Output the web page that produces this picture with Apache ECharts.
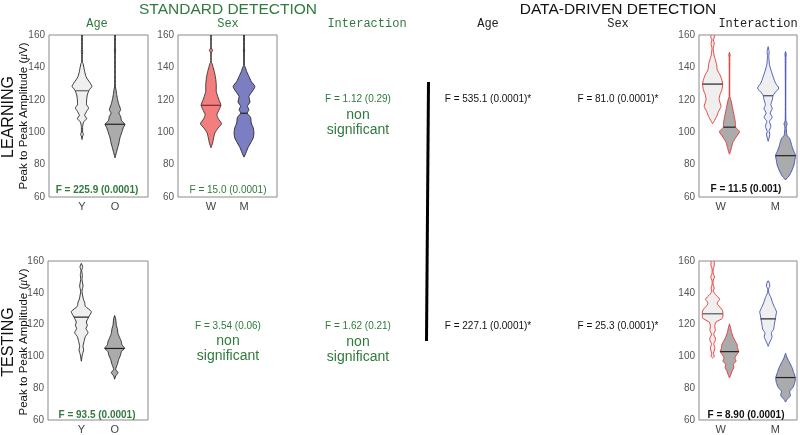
<!DOCTYPE html>
<html><head><meta charset="utf-8">
<script src="https://cdn.jsdelivr.net/npm/echarts@6/dist/echarts.min.js"></script>
<style>html,body{margin:0;padding:0;background:#fff}#c{width:800px;height:435px}</style>
</head><body><div id="c"></div>
<script>
// ---------- data ----------
const yTicks = [60, 80, 100, 120, 140, 160];
const ageCats = ['Y', 'O'];
const sexCats = ['W', 'M'];
const ageSexPos = [1, 2];                    // category positions on x (0..3)
const interPos = [-0.15, 0.16, 0.87, 1.19];  // W-young, W-old, M-young, M-old (-0.4..1.4)
const interLabelPos = [0, 1];

// violin profiles: [amplitude (µV), half width in x-axis units]
const learnAgeY = [[160,0.01],[152,0.01],[150,0.02],[148,0.01],[143,0.01],[142.6,0.03],[137.5,0.08],[134.4,0.12],[132.3,0.18],[130.3,0.25],[128.2,0.30],[126.2,0.22],[123,0.16],[120,0.14],[116.9,0.14],[114.9,0.20],[112.9,0.14],[110.4,0.08],[108.4,0.14],[106.3,0.05],[103.7,0.02],[100,0.02],[98.6,0.04],[97,0.01],[95.5,0]];
const learnAgeO = [[160,0.01],[152,0.01],[150.8,0.02],[149.5,0.01],[128,0.01],[126.4,0.03],[123.3,0.05],[120,0.08],[117,0.12],[113.9,0.17],[111.8,0.12],[109.8,0.17],[107.1,0.20],[104.9,0.30],[102.7,0.25],[99.6,0.20],[96.5,0.15],[93.4,0.12],[90.4,0.08],[87.3,0.04],[84.2,0]];
const learnSexW = [[160,0.01],[152,0.01],[150.4,0.05],[149,0.01],[143,0.01],[142.6,0.03],[140.5,0.06],[137.5,0.10],[133.4,0.14],[129.3,0.16],[125.2,0.16],[121.1,0.22],[118,0.28],[116.6,0.30],[114,0.25],[110.9,0.18],[108.4,0.22],[105.2,0.32],[102.7,0.22],[99.6,0.12],[96.5,0.08],[93.4,0.05],[90.4,0]];
const learnSexM = [[160,0.01],[152,0.01],[150.8,0.02],[149.5,0.01],[141,0.01],[140.5,0.03],[137.5,0.08],[134.4,0.15],[131.3,0.22],[128.2,0.33],[125.2,0.25],[122.1,0.15],[118.6,0.18],[116,0.10],[114,0.15],[111.7,0.10],[109.2,0.20],[105.7,0.22],[102.7,0.28],[99.6,0.30],[96.5,0.28],[93.4,0.20],[90.4,0.12],[87.3,0.06],[84.6,0]];
const testAgeY = [[158.5,0],[156.5,0.04],[154,0.01],[151.4,0.03],[148.3,0.02],[144.2,0.05],[141,0.02],[136,0.06],[134,0.10],[131.5,0.12],[128.2,0.30],[124.7,0.22],[121.6,0.15],[119.5,0.18],[117.5,0.14],[115,0.20],[112.4,0.12],[109.3,0.08],[106.2,0.05],[104.1,0.07],[101,0.03],[97,0]];
const testAgeO = [[125.7,0],[123.7,0.03],[119.5,0.05],[117.5,0.08],[114.4,0.10],[111.8,0.15],[109.3,0.20],[107.2,0.22],[105.1,0.30],[103,0.20],[101,0.18],[98,0.12],[95,0.08],[91.8,0.03],[89.8,0.10],[87.7,0.03],[85.7,0]];
const learnIntWY = [[160,0.02],[159,0.037],[157,0.012],[154.9,0.03],[151.8,0.012],[147.7,0.025],[144.7,0.05],[141.6,0.075],[138.5,0.085],[135.4,0.135],[132.3,0.17],[129.7,0.185],[126.2,0.17],[123.1,0.135],[120,0.12],[115.9,0.155],[112.9,0.11],[109.8,0.075],[106.7,0.025],[105.3,0]];
const learnIntWO = [[149.3,0],[148,0.012],[146,0.006],[122,0.006],[120,0.025],[116,0.05],[111.9,0.075],[107.8,0.1],[104.8,0.11],[103.1,0.11],[100.3,0.185],[97,0.12],[93.5,0.06],[90.5,0.037],[87.4,0.012],[86.4,0]];
const learnIntMY = [[152.8,0],[149.8,0.018],[146.7,0.012],[141.6,0.025],[137.5,0.06],[133.4,0.1],[130.3,0.135],[127.2,0.195],[124.2,0.12],[122.5,0.09],[120,0.075],[117,0.05],[114.5,0.075],[111.8,0.037],[109.2,0.075],[106.7,0.025],[103.6,0.05],[100.5,0.018],[98.5,0.03],[94.4,0]];
const learnIntMO = [[149.8,0],[148,0.012],[146,0.006],[107,0.006],[105.3,0.03],[103.3,0.012],[98.2,0.025],[96.1,0.075],[93.7,0.1],[91,0.12],[88,0.155],[85.5,0.185],[82.8,0.17],[79.8,0.155],[76.7,0.12],[73.6,0.075],[70.5,0]];
const testIntWY = [[160,0.02],[159,0.03],[157,0.03],[155,0.01],[152,0.012],[150,0.035],[148,0.012],[145,0.01],[143,0.03],[141,0.015],[139,0.05],[136,0.13],[134,0.09],[132.8,0.09],[129,0.18],[126.5,0.19],[124,0.18],[121.5,0.06],[119,0.04],[116.4,0.05],[114,0.02],[111.5,0.05],[110,0.05],[108,0.02],[105.5,0.04],[104,0.035],[102,0.015],[100,0.03],[99,0]];
const testIntWO = [[120.5,0],[118,0.02],[115,0.04],[112,0.07],[110,0.1],[107.5,0.14],[105,0.15],[103,0.17],[101,0.13],[99,0.1],[97,0.12],[95,0.07],[93,0.08],[91,0.05],[88,0.02],[86.5,0]];
const testIntMY = [[147.6,0],[146,0.025],[144,0.03],[142.5,0.008],[140,0.012],[137,0.05],[133,0.09],[130,0.13],[128,0.155],[125.5,0.14],[123.6,0.135],[121.5,0.12],[119,0.11],[117,0.1],[115,0.06],[112,0.07],[109,0.03],[106.3,0]];
const testIntMO = [[102,0],[99,0.03],[96,0.075],[92.9,0.12],[89.8,0.15],[86.7,0.18],[83.6,0.17],[80.5,0.135],[78,0.075],[75.4,0.09],[73,0.03],[71.3,0]];

const learnAgeMed = [125.6, 104.9];
const learnSexMed = [116.6, 111.7];
const testAgeMed = [124.7, 105];
const learnIntMed = [129.7, 103.1, 122.5, 85.5];
const testIntMed = [126.8, 103, 123.6, 86.7];

// ---------- styles ----------
const GREEN = '#2f7a3c';
const LIGHT = '#efefef', DARK = '#ababab', RED = '#f27e7e', BLUE = '#7c7ec4';
const RED_LINE = '#e5312b', BLUE_LINE = '#3d4fb8';

const panels = [
  {grid:{left:49,top:35,width:99,height:162}, xmin:0, xmax:3, labels:ageCats, labelPos:ageSexPos,
   violins:[{p:learnAgeY,x:ageSexPos[0],m:learnAgeMed[0],fill:LIGHT,line:'#222',med:'#666'},
            {p:learnAgeO,x:ageSexPos[1],m:learnAgeMed[1],fill:DARK,line:'#222',med:'#222'}]},
  {grid:{left:178,top:35,width:99,height:162}, xmin:0, xmax:3, labels:sexCats, labelPos:ageSexPos,
   violins:[{p:learnSexW,x:ageSexPos[0],m:learnSexMed[0],fill:RED,line:'#333',med:'#7a2a2a'},
            {p:learnSexM,x:ageSexPos[1],m:learnSexMed[1],fill:BLUE,line:'#222',med:'#222'}]},
  {grid:{left:48,top:261,width:100,height:162}, xmin:0, xmax:3, labels:ageCats, labelPos:ageSexPos,
   violins:[{p:testAgeY,x:ageSexPos[0],m:testAgeMed[0],fill:LIGHT,line:'#222',med:'#222'},
            {p:testAgeO,x:ageSexPos[1],m:testAgeMed[1],fill:DARK,line:'#222',med:'#222'}]},
  {grid:{left:699,top:35,width:98,height:162}, xmin:-0.4, xmax:1.4, labels:sexCats, labelPos:interLabelPos,
   violins:[{p:learnIntWY,x:interPos[0],m:learnIntMed[0],fill:LIGHT,line:RED_LINE,med:'#222'},
            {p:learnIntWO,x:interPos[1],m:learnIntMed[1],fill:DARK,line:RED_LINE,med:'#222'},
            {p:learnIntMY,x:interPos[2],m:learnIntMed[2],fill:LIGHT,line:BLUE_LINE,med:'#444'},
            {p:learnIntMO,x:interPos[3],m:learnIntMed[3],fill:DARK,line:BLUE_LINE,med:'#222'}]},
  {grid:{left:699,top:261,width:98,height:162}, xmin:-0.4, xmax:1.4, labels:sexCats, labelPos:interLabelPos,
   violins:[{p:testIntWY,x:interPos[0],m:testIntMed[0],fill:LIGHT,line:RED_LINE,med:'#555'},
            {p:testIntWO,x:interPos[1],m:testIntMed[1],fill:DARK,line:RED_LINE,med:'#222'},
            {p:testIntMY,x:interPos[2],m:testIntMed[2],fill:LIGHT,line:BLUE_LINE,med:'#222'},
            {p:testIntMO,x:interPos[3],m:testIntMed[3],fill:DARK,line:BLUE_LINE,med:'#222'}]}
];

function hwAt(p, y) {
  for (let i = 0; i < p.length - 1; i++) {
    const a = p[i], b = p[i + 1];
    if (y <= a[0] && y >= b[0]) {
      const t = (a[0] - y) / ((a[0] - b[0]) || 1);
      return a[1] + (b[1] - a[1]) * t;
    }
  }
  return 0;
}

const grids = [], xAxes = [], yAxes = [], series = [];
panels.forEach((pn, gi) => {
  grids.push(Object.assign({show:true, borderColor:'#8a8a8a', borderWidth:1, backgroundColor:'#fff', containLabel:false}, pn.grid));
  xAxes.push({type:'value', gridIndex:gi, min:pn.xmin, max:pn.xmax,
    axisLine:{show:false}, axisTick:{show:false}, splitLine:{show:false},
    axisLabel:{customValues:pn.labelPos, margin:4, fontSize:11, color:'#444', fontFamily:'Liberation Sans',
      formatter:(v)=>{const k=pn.labelPos.indexOf(v); return k>=0?pn.labels[k]:'';}}});
  yAxes.push({type:'value', gridIndex:gi, min:yTicks[0], max:yTicks[yTicks.length-1], interval:20,
    axisLine:{show:false}, axisTick:{show:false}, splitLine:{show:false},
    axisLabel:{margin:4, fontSize:10, color:'#555', fontFamily:'Liberation Sans'}});
  series.push({type:'custom', xAxisIndex:gi, yAxisIndex:gi, clip:true,
    data: pn.violins.map((v, i) => [v.x, v.m, i]),
    renderItem:(params, api) => {
      const v = pn.violins[params.dataIndex];
      const pts = [];
      v.p.forEach(d => pts.push(api.coord([v.x + d[1], d[0]])));
      for (let i = v.p.length - 1; i >= 0; i--) { const d = v.p[i]; pts.push(api.coord([v.x - d[1], d[0]])); }
      const hm = hwAt(v.p, v.m);
      const a = api.coord([v.x - hm, v.m]), b = api.coord([v.x + hm, v.m]);
      return {type:'group', children:[
        {type:'polygon', shape:{points:pts, smooth:0.2}, style:{fill:v.fill, stroke:v.line, lineWidth:0.9}},
        {type:'line', shape:{x1:a[0], y1:a[1], x2:b[0], y2:b[1]}, style:{stroke:v.med, lineWidth:1.2}}
      ]};
    }});
});

function txt(x, y, s, o) {
  return Object.assign({type:'text', x, y, style:Object.assign({text:s, align:'center', verticalAlign:'middle',
    fill:'#111', font:'10px "Liberation Sans", Arial, sans-serif'}, o||{})});
}
const sans = (px, w) => (w||'normal') + ' ' + px + 'px "Liberation Sans", Arial, sans-serif';
const mono = '12px "Liberation Mono", "Courier New", monospace';
const ylab = (y) => ({type:'text', x:24, y, rotation:Math.PI/2, style:{text:'Peak to Peak Amplitude ({i|μ}V)',
  rich:{i:{font:'italic 11.5px "Liberation Serif", serif', fill:'#111'}}, align:'center', verticalAlign:'middle', fill:'#111', font:sans(11.5)}});

const g = [
  txt(228, 10, 'STANDARD DETECTION', {fill:GREEN, font:sans(15.5)}),
  txt(618, 10, 'DATA-DRIVEN DETECTION', {fill:'#111', font:sans(15.5)}),
  txt(97, 24, 'Age', {fill:GREEN, font:mono}),
  txt(228, 24, 'Sex', {fill:GREEN, font:mono}),
  txt(367, 24, 'Interaction', {fill:GREEN, font:mono}),
  txt(488, 24, 'Age', {fill:'#222', font:mono}),
  txt(618, 24, 'Sex', {fill:'#222', font:mono}),
  txt(758, 24, 'Interaction', {fill:'#222', font:mono}),
  Object.assign(txt(9, 117, 'LEARNING', {fill:'#111', font:sans(16)}), {rotation:Math.PI/2}),
  Object.assign(txt(9, 342, 'TESTING', {fill:'#111', font:sans(16)}), {rotation:Math.PI/2}),
  ylab(116), ylab(342),
  txt(97, 190, 'F = 225.9 (0.0001)', {fill:GREEN, font:sans(10,'bold')}),
  txt(228, 190, 'F = 15.0 (0.0001)', {fill:GREEN, font:sans(10)}),
  txt(97, 415, 'F = 93.5 (0.0001)', {fill:GREEN, font:sans(10,'bold')}),
  txt(746, 189, 'F = 11.5 (0.001)', {fill:'#111', font:sans(10,'bold')}),
  txt(746, 415, 'F = 8.90 (0.0001)', {fill:'#111', font:sans(10,'bold')}),
  txt(358, 99, 'F = 1.12 (0.29)', {fill:GREEN, font:sans(10)}),
  txt(358, 115, 'non', {fill:GREEN, font:sans(14)}),
  txt(358, 130, 'significant', {fill:GREEN, font:sans(14)}),
  txt(228, 326, 'F = 3.54 (0.06)', {fill:GREEN, font:sans(10)}),
  txt(228, 341, 'non', {fill:GREEN, font:sans(14)}),
  txt(228, 356, 'significant', {fill:GREEN, font:sans(14)}),
  txt(358, 326, 'F = 1.62 (0.21)', {fill:GREEN, font:sans(10)}),
  txt(358, 342, 'non', {fill:GREEN, font:sans(14)}),
  txt(358, 357, 'significant', {fill:GREEN, font:sans(14)}),
  txt(488, 99, 'F = 535.1 (0.0001)*', {fill:'#111', font:sans(10)}),
  txt(618, 99, 'F = 81.0 (0.0001)*', {fill:'#111', font:sans(10)}),
  txt(488, 326, 'F = 227.1 (0.0001)*', {fill:'#111', font:sans(10)}),
  txt(618, 326, 'F = 25.3 (0.0001)*', {fill:'#111', font:sans(10)}),
  {type:'line', shape:{x1:428.5, y1:82, x2:426.5, y2:341}, style:{stroke:'#000', lineWidth:3}}
];

const chart = echarts.init(document.getElementById('c'), null, {renderer:'canvas'});
chart.setOption({animation:false, backgroundColor:'#fff', grid:grids, xAxis:xAxes, yAxis:yAxes, series, graphic:g});
</script></body></html>
